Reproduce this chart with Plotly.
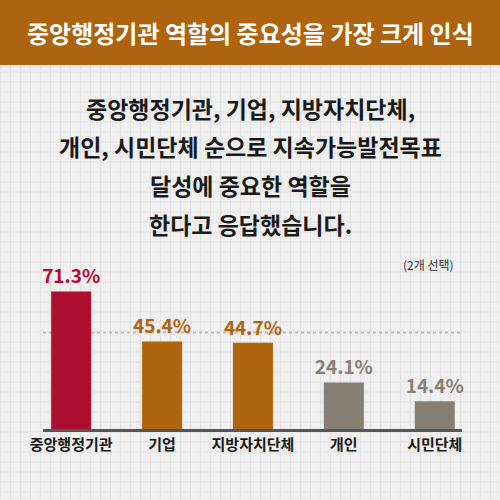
import plotly.graph_objects as go

# 데이터
기관 = ['중앙행정기관', '기업', '지방자치단체', '개인', '시민단체']
비율 = [71.3, 45.4, 44.7, 24.1, 14.4]
색상 = ['#ae0e30', '#af640e', '#af640e', '#877e74', '#877e74']
기준선 = 50

제목 = '중앙행정기관 역할의 중요성을 가장 크게 인식'
설명 = ['중앙행정기관, 기업, 지방자치단체,',
        '개인, 시민단체 순으로 지속가능발전목표',
        '달성에 중요한 역할을',
        '한다고 응답했습니다.']
메모 = '(2개 선택)'

FONT = 'Noto Sans CJK KR'

fig = go.Figure()
fig.add_trace(go.Bar(
    x=기관,
    y=비율,
    marker=dict(color=색상, line=dict(width=0)),
    width=0.44,
    text=[f'{v}%' for v in 비율],
    textposition='outside',
    constraintext='none',
    textfont=dict(family=FONT, size=19, color=색상, weight='bold'),
    cliponaxis=False,
    hoverinfo='skip',
))

#배경 격자
shapes = []
for i in range(51):
    shapes.append(dict(type='line', xref='paper', yref='paper',
                       x0=(i * 10 + 0.5) / 500, x1=(i * 10 + 0.5) / 500, y0=0, y1=1,
                       line=dict(color='#e1e1e1', width=1.2), layer='below'))
    shapes.append(dict(type='line', xref='paper', yref='paper',
                       x0=0, x1=1, y0=1 - (i * 10 + 2) / 500, y1=1 - (i * 10 + 2) / 500,
                       line=dict(color='#e1e1e1', width=1.2), layer='below'))

#상단 띠
shapes.append(dict(type='rect', xref='paper', yref='paper', x0=0, x1=1,
                   y0=1 - 65 / 500, y1=1, fillcolor='#ae630f', line=dict(width=0)))

#기준 점선
shapes.append(dict(type='line', xref='x domain', yref='y', x0=0, x1=1,
                   y0=기준선, y1=기준선, layer='below',
                   line=dict(color='#b8bcc0', width=2, dash='dot')))

annotations = [dict(text=제목, xref='paper', yref='paper', x=0.5, y=1 - 32 / 500,
                    showarrow=False, xanchor='center', yanchor='middle',
                    font=dict(family=FONT, size=24, color='white', weight='bold'))]
for i, line in enumerate(설명):
    annotations.append(dict(text=line, xref='paper', yref='paper', x=0.5,
                            y=1 - (108 + i * 38.5) / 500,
                            showarrow=False, xanchor='center', yanchor='middle',
                            font=dict(family=FONT, size=23, color='#1a1a1a', weight='bold')))
annotations.append(dict(text=메모, xref='paper', yref='paper', x=428 / 500, y=1 - 264 / 500,
                        showarrow=False, xanchor='center', yanchor='middle',
                        font=dict(family=FONT, size=12, color='#333333')))

fig.update_layout(
    width=500, height=500,
    autosize=False,
    margin=dict(l=0, r=0, t=0, b=0, pad=0, autoexpand=False),
    paper_bgcolor='#efefef',
    plot_bgcolor='rgba(0,0,0,0)',
    showlegend=False,
    shapes=shapes,
    annotations=annotations,
    bargap=0.56,
    xaxis=dict(domain=[43 / 500, 462 / 500], range=[-0.31, 4.3],
               showline=True, linecolor='#555555', linewidth=3,
               showgrid=False, zeroline=False, ticks='', automargin=False,
               tickfont=dict(family=FONT, size=15, color='#1a1a1a', weight='bold'),
               ticklabelstandoff=0),
    yaxis=dict(domain=[71 / 500, 264 / 500], range=[0, 100], automargin=False,
               visible=False, showgrid=False, zeroline=False),
)

fig.write_html("out.html", config={'displayModeBar': False},
               post_script="document.body.style.margin='0';")
